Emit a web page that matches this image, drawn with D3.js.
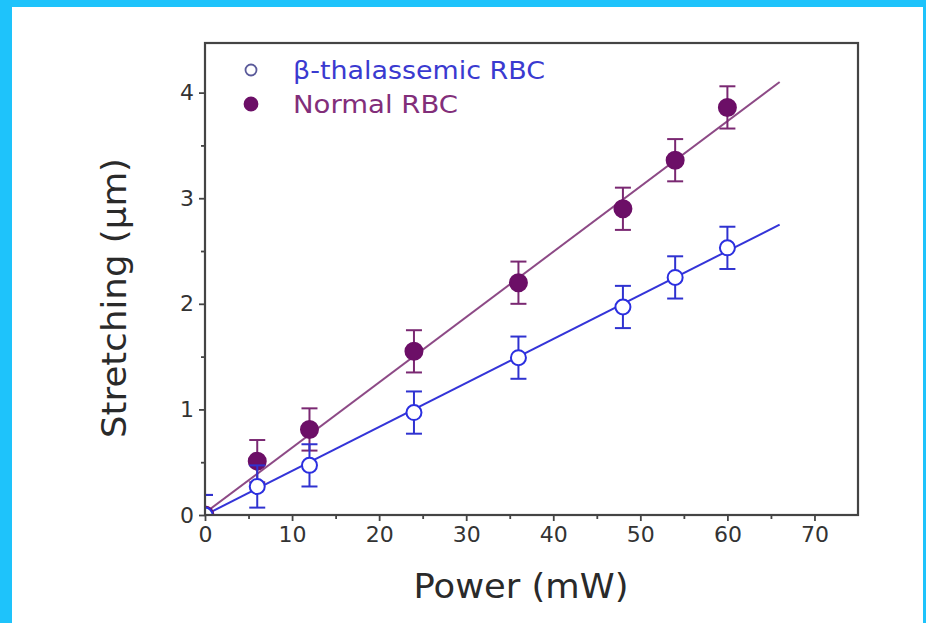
<!DOCTYPE html>
<html>
<head>
<meta charset="utf-8">
<script src="https://cdn.jsdelivr.net/npm/d3@7"></script>
<style>
  html, body { margin: 0; padding: 0; background: #fff; }
  svg { display: block; }
  text { font-family: "DejaVu Sans", Verdana, sans-serif; }
</style>
</head>
<body>
<svg id="chart" width="926" height="623"></svg>
<script>
// Laser power (mW) at which each cell was stretched
const power = [0, 6, 12, 24, 36, 48, 54, 60];
// Mean stretching (µm) and its error
const normalRBC = [0, 0.51, 0.81, 1.55, 2.2, 2.9, 3.36, 3.86];
const normalErr = [0.19, 0.2, 0.2, 0.2, 0.2, 0.2, 0.2, 0.2];
const betaRBC = [0, 0.27, 0.47, 0.97, 1.49, 1.97, 2.25, 2.53];
const betaErr = [0.19, 0.2, 0.2, 0.2, 0.2, 0.2, 0.2, 0.2];
// Linear fits, given by their end points
const normalFit = [[0, 0.02], [66, 4.1]];
const betaFit = [[0, 0], [66, 2.75]];
// Axis ticks
const xTicks = [0, 10, 20, 30, 40, 50, 60, 70];
const xMinor = [5, 15, 25, 35, 45, 55, 65];
const yTicks = [0, 1, 2, 3, 4];
const yMinor = [0.5, 1.5, 2.5, 3.5];
const seriesNames = ["β-thalassemic RBC", "Normal RBC"];

const svg = d3.select("#chart");
const W = 926, H = 623;

// light blue page frame
svg.append("rect").attr("x", 0).attr("y", 0).attr("width", W).attr("height", H).attr("fill", "#1ec3fb");
svg.append("rect").attr("x", 12).attr("y", 7).attr("width", W - 15).attr("height", H - 7).attr("fill", "#fff");

const pLeft = 205, pRight = 858, pTop = 43, pBottom = 515;
const x = d3.scaleLinear().domain([0, 75]).range([pLeft, pRight]);
const y = d3.scaleLinear().domain([0, 4.47]).range([pBottom, pTop]);

const axisColor = "#444";
const tickText = "#333";

svg.append("defs").append("clipPath").attr("id", "plotClip")
  .append("rect").attr("x", pLeft).attr("y", pTop)
  .attr("width", pRight - pLeft).attr("height", pBottom - pTop);

// bottom axis
svg.append("g").attr("transform", `translate(0,${pBottom})`)
  .call(d3.axisBottom(x).tickValues(xTicks).tickSize(6).tickPadding(5).tickFormat(d3.format("d")));
svg.append("g").attr("transform", `translate(0,${pBottom})`)
  .call(d3.axisBottom(x).tickValues(xMinor).tickSize(4).tickFormat(""))
  .call(g => g.select(".domain").remove());
// left axis
svg.append("g").attr("transform", `translate(${pLeft},0)`)
  .call(d3.axisLeft(y).tickValues(yTicks).tickSize(6).tickPadding(5).tickFormat(d3.format("d")));
svg.append("g").attr("transform", `translate(${pLeft},0)`)
  .call(d3.axisLeft(y).tickValues(yMinor).tickSize(4).tickFormat(""))
  .call(g => g.select(".domain").remove());

svg.selectAll(".tick line").attr("stroke", axisColor).attr("stroke-width", 1.8);
svg.selectAll(".domain").attr("stroke", "none");
svg.selectAll(".tick text").attr("fill", tickText).attr("font-size", 22)
  .attr("font-family", "DejaVu Sans, Verdana, sans-serif");

// axis titles
svg.append("text").attr("x", 521).attr("y", 598)
  .attr("text-anchor", "middle").attr("font-size", 33).attr("fill", "#2a2a2a")
  .attr("textLength", 215).attr("lengthAdjust", "spacingAndGlyphs")
  .text("Power (mW)");
svg.append("text").attr("transform", "translate(126,298) rotate(-90)")
  .attr("text-anchor", "middle").attr("font-size", 33).attr("fill", "#2a2a2a")
  .attr("textLength", 280).attr("lengthAdjust", "spacingAndGlyphs")
  .text("Stretching (µm)");

const line = d3.line().x(d => x(d[0])).y(d => y(d[1]));

const series = [
  { name: seriesNames[0], vals: betaRBC, err: betaErr, fit: betaFit, legendLen: 252,
    line: "#3434d8", bar: "#2f32d0", stroke: "#2b2fe0", fill: "#fff", text: "#3a3ad0" },
  { name: seriesNames[1], vals: normalRBC, err: normalErr, fit: normalFit, legendLen: 165,
    line: "#8d4a86", bar: "#7a2872", stroke: "#6c0f67", fill: "#6c0f67", text: "#822e7a" }
];

const plot = svg.append("g").attr("clip-path", "url(#plotClip)");
// fit lines
series.forEach(s => {
  plot.append("path").datum(s.fit).attr("d", line)
    .attr("fill", "none").attr("stroke", s.line).attr("stroke-width", 2);
});
// error bars and markers
series.slice().reverse().forEach(s => {
  const pts = power.map((p, i) => ({ p, v: s.vals[i], e: s.err[i] }));
  const g = plot.append("g");
  const eb = g.selectAll("g.eb").data(pts).join("g").attr("class", "eb")
    .attr("stroke", s.bar).attr("stroke-width", 2);
  eb.append("line").attr("x1", d => x(d.p)).attr("x2", d => x(d.p))
    .attr("y1", d => y(d.v - d.e)).attr("y2", d => y(d.v + d.e));
  eb.append("line").attr("x1", d => x(d.p) - 8).attr("x2", d => x(d.p) + 8)
    .attr("y1", d => y(d.v + d.e)).attr("y2", d => y(d.v + d.e));
  eb.append("line").attr("x1", d => x(d.p) - 8).attr("x2", d => x(d.p) + 8)
    .attr("y1", d => y(d.v - d.e)).attr("y2", d => y(d.v - d.e));
  g.selectAll("circle").data(pts).join("circle")
    .attr("cx", d => x(d.p)).attr("cy", d => y(d.v))
    .attr("r", s.fill === "#fff" ? 7.5 : 8.5)
    .attr("fill", s.fill).attr("stroke", s.stroke).attr("stroke-width", 2);
});

// plot frame
svg.append("rect").attr("x", pLeft).attr("y", pTop)
  .attr("width", pRight - pLeft).attr("height", pBottom - pTop)
  .attr("fill", "none").attr("stroke", axisColor).attr("stroke-width", 2.2);

// legend
const legend = svg.append("g");
series.forEach((s, i) => {
  const ly = 70 + i * 34;
  legend.append("circle").attr("cx", 251).attr("cy", ly)
    .attr("r", s.fill === "#fff" ? 5.5 : 6.5)
    .attr("fill", s.fill === "#fff" ? "#fff" : s.fill)
    .attr("stroke", s.fill === "#fff" ? "#5a5a9a" : s.stroke).attr("stroke-width", 1.8);
  legend.append("text").attr("x", 293).attr("y", ly + 9)
    .attr("font-size", 25.5).attr("fill", s.text)
    .attr("textLength", s.legendLen).attr("lengthAdjust", "spacingAndGlyphs")
    .text(s.name);
});
</script>
</body>
</html>
